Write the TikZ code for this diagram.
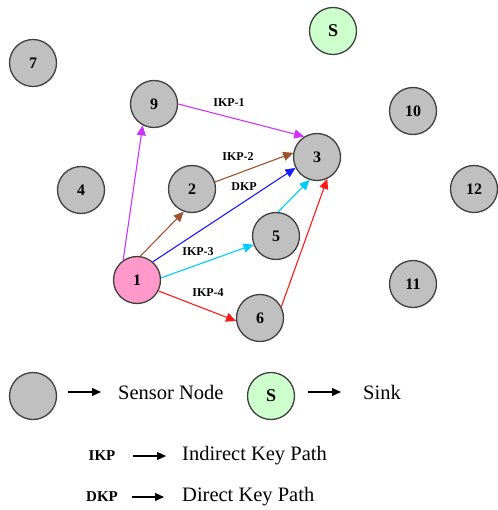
\documentclass[tikz,border=0pt]{standalone}
\usepackage{fontspec}
\setmainfont{Liberation Serif}
\usetikzlibrary{arrows.meta}
\definecolor{nodegray}{HTML}{C0C0C0}
\definecolor{nodeborder}{HTML}{404040}
\definecolor{pinkfill}{HTML}{FF99CC}
\definecolor{sinkfill}{HTML}{CCFFCC}
\definecolor{cpurple}{HTML}{CC33FF}
\definecolor{cbrown}{HTML}{A0522D}
\definecolor{cblue}{HTML}{1A1AFF}
\definecolor{ccyan}{HTML}{00CCFF}
\definecolor{cred}{HTML}{FF1A1A}
\tikzset{
  sensor/.style={circle, draw=nodeborder, line width=1.3pt, fill=nodegray, minimum size=47pt, inner sep=0pt, font=\fontsize{16}{16}\selectfont\bfseries},
  source/.style={sensor, fill=pinkfill},
  sinknode/.style={sensor, fill=sinkfill, font=\fontsize{18}{18}\selectfont\bfseries},
  link/.style={line width=1.1pt, -{Triangle[length=10pt,width=9pt]}},
  lbl/.style={font=\fontsize{12}{12}\selectfont\bfseries, inner sep=0pt},
  legtext/.style={font=\fontsize{20.5}{20.5}\selectfont, anchor=west, inner sep=0pt},
  legkey/.style={font=\fontsize{15}{15}\selectfont\bfseries, inner sep=0pt},
  legarrow/.style={line width=1.2pt, -{Triangle[length=9pt,width=8pt]}}
}
\begin{document}
\begin{tikzpicture}[x=1pt,y=-1pt]
\useasboundingbox (0,0) rectangle (497,510);
% nodes
\node[sinknode] (S) at (333,31) {S};
\node[sensor] (n7) at (33,63) {7};
\node[sensor] (n9) at (154,104) {9};
\node[sensor] (n10) at (413,111) {10};
\node[sensor] (n3) at (317,157) {3};
\node[sensor] (n4) at (81,190) {4};
\node[sensor] (n2) at (192,189) {2};
\node[sensor] (n12) at (474,189) {12};
\node[sensor] (n5) at (276,236) {5};
\node[source] (n1) at (137,280) {1};
\node[sensor] (n11) at (413,284) {11};
\node[sensor] (n6) at (260,318) {6};
% links
\draw[link, cpurple] (n1.125) -- (n9.242);
\draw[link, cpurple] (n9.0) -- (n3.122);
\draw[link, cbrown] (n1.82) -- (n2.250);
\draw[link, cbrown] (n2.17) -- (n3.170);
\draw[link, cblue] (n1.49) -- (n3.207);
\draw[link, ccyan] (n1.5) -- (n5.201);
\draw[link, ccyan] (n5.85) -- (n3.252);
\draw[link, cred] (n1.333) -- (n6.187);
\draw[link, cred] (n6.28) -- (n3.295);
% labels
\node[lbl] (l1) at (229,103) {IKP-1};
\node[lbl] (l2) at (238,157) {IKP-2};
\node[lbl] (l3) at (244,187) {DKP};
\node[lbl] (l4) at (198,252) {IKP-3};
\node[lbl] (l5) at (208,293) {IKP-4};
% legend
\node[sensor] (leg1) at (33,396) {};
\coordinate (a1s) at (68,392);
\coordinate (a1e) at (101,392);
\draw[legarrow] (a1s) -- (a1e);
\node[legtext] (t1) at (118,392) {Sensor Node};
\node[sinknode] (leg2) at (271,396) {S};
\coordinate (a2s) at (308,392);
\coordinate (a2e) at (341,392);
\draw[legarrow] (a2s) -- (a2e);
\node[legtext] (t2) at (363,392) {Sink};
\node[legkey] (k1) at (102,456) {IKP};
\coordinate (a3s) at (133,456);
\coordinate (a3e) at (166,456);
\draw[legarrow] (a3s) -- (a3e);
\node[legtext] (t3) at (182,456) {Indirect Key Path};
\node[legkey] (k2) at (102,497) {DKP};
\coordinate (a4s) at (132,497);
\coordinate (a4e) at (164,497);
\draw[legarrow] (a4s) -- (a4e);
\node[legtext] (t4) at (182,497) {Direct Key Path};
\end{tikzpicture}
\end{document}
